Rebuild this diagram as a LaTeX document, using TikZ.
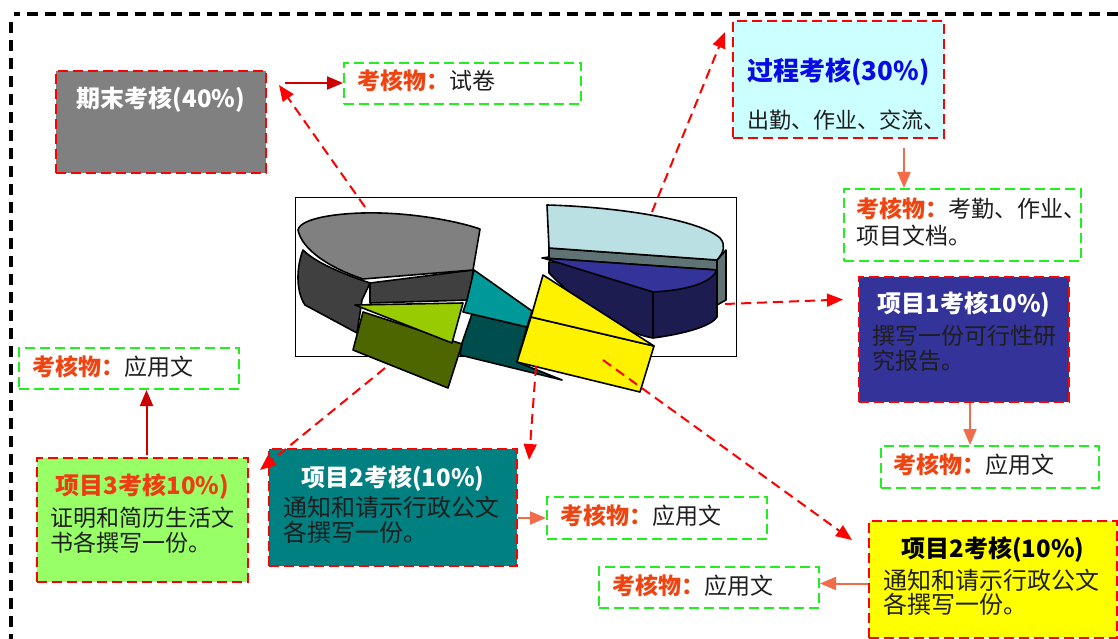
\documentclass[tikz,border=0pt]{standalone}
\usepackage{fontspec}
\setmainfont{Noto Sans CJK SC}
\usetikzlibrary{arrows.meta,calc}
\definecolor{kgreen}{HTML}{22EE22}
\definecolor{kred}{HTML}{EE4411}
\definecolor{arrO}{HTML}{F26B4A}
\definecolor{arrR}{HTML}{CC0000}
\definecolor{txtdark}{HTML}{1E1E1E}
\definecolor{ttlblue}{HTML}{0A0AE6}
\definecolor{ttlred}{HTML}{F03C14}
\definecolor{graytop}{HTML}{808080}
\definecolor{grayside}{HTML}{404040}
\definecolor{tealtop}{HTML}{009999}
\definecolor{tealside}{HTML}{004D4D}
\definecolor{limetop}{HTML}{99CC00}
\definecolor{oliveside}{HTML}{4D6600}
\definecolor{navytop}{HTML}{333399}
\definecolor{navyside}{HTML}{1C1C50}
\definecolor{cyantop}{HTML}{BBE0E3}
\definecolor{cyanside}{HTML}{5F7374}
\definecolor{fillA}{HTML}{808080}
\definecolor{fillB}{HTML}{CCFFFF}
\definecolor{fillC}{HTML}{333399}
\definecolor{fillD}{HTML}{FFFF00}
\definecolor{fillE}{HTML}{008080}
\definecolor{fillF}{HTML}{99FF66}
\newcommand{\kh}{{\bfseries\color{kred}考核物：}}
\begin{document}
\begin{tikzpicture}[x=1pt,y=-1pt,
  box/.style={draw=red, line width=2pt, dash pattern=on 10pt off 5pt, inner sep=0pt, anchor=north west},
  gbox/.style={draw=kgreen, line width=2pt, dash pattern=on 10pt off 5pt, inner sep=0pt, anchor=north west},
  ttl/.style={anchor=base, inner sep=0pt, font=\fontsize{24}{28}\selectfont\bfseries},
  txt/.style={anchor=base west, inner sep=0pt, font=\fontsize{23}{26}\selectfont, text=txtdark},
  txtw/.style={txt, font=\fontsize{24}{26}\selectfont},
  kw/.style={anchor=base west, inner sep=0pt, font=\fontsize{23}{26}\selectfont, text=txtdark},
  link/.style={draw=red, line width=2pt, dash pattern=on 10pt off 6pt, -{Triangle[length=16pt,width=13pt]}},
  linkO/.style={draw=arrO, line width=2pt, -{Triangle[length=16pt,width=13pt]}},
  linkR/.style={draw=arrR, line width=2pt, -{Triangle[length=16pt,width=13pt]}},
  slice/.style={draw=black, line width=1.6pt, line join=round}
]
\useasboundingbox (0,0) rectangle (1118,639);
% outer frame
\draw[black, line width=3.5pt, dash pattern=on 11pt off 7pt] (1118,14) -- (14,14);
\draw[black, line width=3.5pt, dash pattern=on 11pt off 7pt] (11,22) -- (11,639);

% pie frame
\node[draw=black, line width=1.2pt, anchor=north west, minimum width=441pt, minimum height=159pt, inner sep=0pt] (pie) at (295,197) {};

% light cyan slice
\filldraw[slice, fill=cyanside] (549,248) -- (717,260) -- (717,270) -- (542,258) -- (549,257) -- cycle;
\filldraw[slice, fill=cyanside] (717,260) -- (726,250) -- (726,300) -- (717,305) -- cycle;
\filldraw[slice, fill=cyantop] (547,205) .. controls (620,207) and (700,220) .. (720,238) .. controls (726,245) and (724,252) .. (717,260) -- (549,248) -- cycle;
% navy slice
\filldraw[slice, fill=navyside] (549,262) -- (549,273) .. controls (580,305) and (620,332) .. (653,338) .. controls (690,333) and (712,325) .. (717,317) -- (717,270) -- cycle;
\draw[slice] (653,292) -- (653,338);
\filldraw[slice, fill=navytop] (543,258) -- (717,270) .. controls (712,282) and (690,290) .. (653,292) -- cycle;
% gray slice
\filldraw[slice, fill=grayside] (303,250) .. controls (297,265) and (295,290) .. (305,305) -- (357,333) -- (362,300) -- (370,283) .. controls (340,273) and (315,262) .. (303,250) -- cycle;
\filldraw[slice, fill=grayside] (370,283) -- (473,270) -- (470,300) -- (370,303) -- cycle;
\filldraw[slice, fill=graytop] (298,230) .. controls (300,218) and (340,212) .. (380,213) .. controls (420,214) and (460,222) .. (480,229) -- (473,270) -- (363,279) .. controls (330,268) and (302,250) .. (298,230) -- cycle;
% teal slice
\filldraw[slice, fill=tealside] (472,314) -- (527,327) -- (517,362) -- (562,380) -- (460,355) -- (462,343) -- cycle;
\filldraw[slice, fill=tealtop] (474,270) -- (532,311) -- (527,327) -- (463,312) -- (467,300) -- cycle;
% olive slice
\filldraw[slice, fill=oliveside] (363,312) -- (462,344) -- (448,388) -- (353,350) -- cycle;
\filldraw[slice, fill=limetop] (355,305) -- (463,303) -- (452,343) -- cycle;
% yellow slice
\filldraw[slice, fill=yellow] (531,317) -- (654,346) -- (640,392) -- (517,362) -- cycle;
\filldraw[slice, fill=yellow] (543,275) -- (654,346) -- (531,317) -- cycle;

% boxes
\node[box, fill=fillA, minimum width=210pt, minimum height=102pt] (A) at (55,70) {};
\node[box, fill=fillB, minimum width=211pt, minimum height=117pt] (B) at (732,20) {};
\node[box, fill=fillC, minimum width=210pt, minimum height=125pt] (C) at (858,276) {};
\node[box, fill=fillD, minimum width=248pt, minimum height=117pt] (D) at (868,520) {};
\node[box, fill=fillE, minimum width=248pt, minimum height=117pt] (E) at (268,448) {};
\node[box, fill=fillF, minimum width=211pt, minimum height=124pt] (F) at (36,457) {};

\node[gbox, minimum width=237pt, minimum height=41pt] (Ap) at (343,62) {};
\node[gbox, minimum width=237pt, minimum height=72pt] (Bp) at (843,188) {};
\node[gbox, minimum width=218pt, minimum height=42pt] (Cp) at (880,445) {};
\node[gbox, minimum width=220pt, minimum height=41pt] (Dp) at (598,566) {};
\node[gbox, minimum width=220pt, minimum height=42pt] (Ep) at (546,496) {};
\node[gbox, minimum width=220pt, minimum height=41pt] (Fp) at (18,347) {};

% box texts
\node[ttl, text=white] (At) at ($(A.north)+(0,38)$) {期末考核(40\%)};
\node[ttl, text=ttlblue, font=\fontsize{26}{30}\selectfont\bfseries] (Bt) at ($(B.north)+(0,61)$) {过程考核(30\%)};
\node[txt, font=\fontsize{22}{26}\selectfont] (Bb1) at ($(B.north west)+(15,109)$) {出勤、作业、交流、};
\node[ttl, text=white] (Ct) at ($(C.north)+(0,36)$) {项目1考核10\%)};
\node[txt] (Cb1) at ($(C.north west)+(14,68)$) {撰写一份可行性研};
\node[txt] (Cb2) at ($(C.north west)+(14,93)$) {究报告。};
\node[ttl, text=black] (Dt) at ($(D.north)+(0,37)$) {项目2考核(10\%)};
\node[txtw] (Db1) at ($(D.north west)+(15,69)$) {通知和请示行政公文};
\node[txtw] (Db2) at ($(D.north west)+(15,93)$) {各撰写一份。};
\node[ttl, text=white] (Et) at ($(E.north)+(0,38)$) {项目2考核(10\%)};
\node[txtw] (Eb1) at ($(E.north west)+(15,68)$) {通知和请示行政公文};
\node[txtw] (Eb2) at ($(E.north west)+(15,93)$) {各撰写一份。};
\node[ttl, text=ttlred] (Ft) at ($(F.north)+(0,37)$) {项目3考核10\%)};
\node[txt] (Fb1) at ($(F.north west)+(14,69)$) {证明和简历生活文};
\node[txt] (Fb2) at ($(F.north west)+(14,94)$) {书各撰写一份。};

\node[kw] (Apt) at ($(Ap.north west)+(14,28)$) {\kh 试卷};
\node[kw] (Bpt1) at ($(Bp.north west)+(13,29)$) {\kh 考勤、作业、};
\node[kw] (Bpt2) at ($(Bp.north west)+(13,56)$) {项目文档。};
\node[kw] (Cpt) at ($(Cp.north west)+(13,28)$) {\kh 应用文};
\node[kw] (Dpt) at ($(Dp.north west)+(14,28)$) {\kh 应用文};
\node[kw] (Ept) at ($(Ep.north west)+(14,28)$) {\kh 应用文};
\node[kw] (Fpt) at ($(Fp.north west)+(14,28)$) {\kh 应用文};

% solid connectors
\draw[linkR] ($(A.north east)+(18,13)$) coordinate (a1) -- (a1 -| Ap.west);
\draw[linkO] ($(B.south east)+(-41,9)$) coordinate (b1) -- (b1 |- Bp.north);
\draw[linkO] ($(C.south)+(6,0)$) coordinate (c1) -- (c1 |- Cp.north);
\draw[linkO] ($(D.west)+(0,4)$) coordinate (d1) -- (d1 -| Dp.east);
\draw[linkO] (Ep.west -| E.east) -- (Ep.west);
\draw[linkR] ($(F.north)+(4,-2)$) coordinate (f1) -- (f1 |- Fp.south);

% dashed connectors from the pie
\coordinate (p1) at (365,207);
\coordinate (p2) at (652,212);
\coordinate (p3) at (725,304);
\coordinate (p4) at (385,368);
\coordinate (p5) at (536,366);
\coordinate (p6) at (603,360);
\draw[link] (p1) -- ($(A.north east)+(12,15)$);
\draw[link] (p2) -- ($(B.north west)+(-7,12)$);
\draw[link] (p3) -- ($(C.west)+(-15,-40)$);
\draw[link] (p4) -- ($(F.north east)+(11,13)$);
\draw[link] (p5) -- ($(E.north east)+(11,12)$);
\draw[link] (p6) -- ($(D.north west)+(-16,20)$);
\end{tikzpicture}
\end{document}
